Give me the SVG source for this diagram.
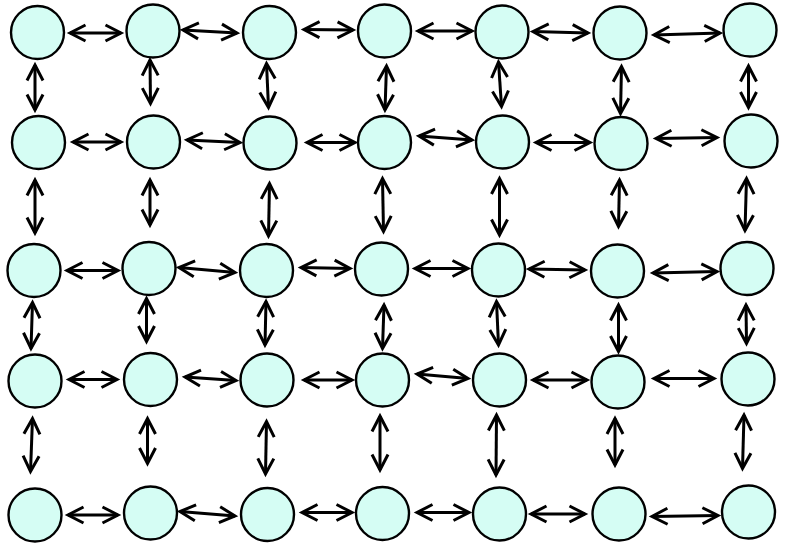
<svg xmlns="http://www.w3.org/2000/svg" width="785" height="543" viewBox="0 0 785 543">
<style>
.n{fill:#d5fdf4;stroke:#000;stroke-width:2.4}
.a{fill:none;stroke:#000;stroke-width:3;marker-start:url(#h);marker-end:url(#h)}
</style>
<defs>
<marker id="h" viewBox="-20 -12 26 24" markerWidth="26" markerHeight="24" refX="0" refY="0" orient="auto-start-reverse" markerUnits="userSpaceOnUse" overflow="visible">
<path d="M-15.5,-8 L0,0 L-15.5,8" fill="none" stroke="#000" stroke-width="3"/>
</marker>
</defs>
<rect width="785" height="543" fill="#fff"/>
<g id="connectors">
<line class="a" x1="70" y1="33" x2="121" y2="33"/>
<line class="a" x1="183" y1="30" x2="237" y2="33"/>
<line class="a" x1="304" y1="29.5" x2="353" y2="30"/>
<line class="a" x1="418" y1="31" x2="472" y2="31"/>
<line class="a" x1="533" y1="31.5" x2="588" y2="33"/>
<line class="a" x1="654" y1="35" x2="720" y2="33"/>
<line class="a" x1="73" y1="142" x2="121" y2="142"/>
<line class="a" x1="187" y1="140" x2="240" y2="142.5"/>
<line class="a" x1="307" y1="142.5" x2="355" y2="142.5"/>
<line class="a" x1="419" y1="136" x2="472" y2="140"/>
<line class="a" x1="536" y1="142.5" x2="590" y2="142.5"/>
<line class="a" x1="656" y1="138.5" x2="717" y2="137.5"/>
<line class="a" x1="67" y1="270.5" x2="118" y2="270.5"/>
<line class="a" x1="179" y1="267.5" x2="235" y2="272.5"/>
<line class="a" x1="301" y1="267.5" x2="350" y2="268.5"/>
<line class="a" x1="415" y1="268.5" x2="468" y2="268.5"/>
<line class="a" x1="529" y1="269" x2="585" y2="270"/>
<line class="a" x1="653" y1="273" x2="717" y2="271.5"/>
<line class="a" x1="69" y1="379.5" x2="117" y2="379.5"/>
<line class="a" x1="185" y1="377" x2="236" y2="380.5"/>
<line class="a" x1="304" y1="380" x2="352" y2="380"/>
<line class="a" x1="417" y1="374" x2="468" y2="378.5"/>
<line class="a" x1="533" y1="380" x2="587" y2="380"/>
<line class="a" x1="654" y1="378.5" x2="714" y2="378.5"/>
<line class="a" x1="68" y1="515" x2="118" y2="515"/>
<line class="a" x1="180" y1="511.5" x2="235" y2="516"/>
<line class="a" x1="302" y1="512.5" x2="352" y2="512.5"/>
<line class="a" x1="417" y1="512.5" x2="469" y2="512.5"/>
<line class="a" x1="531" y1="514" x2="585" y2="514"/>
<line class="a" x1="652" y1="516.5" x2="718" y2="515.5"/>
<line class="a" x1="35" y1="65" x2="35" y2="110"/>
<line class="a" x1="150" y1="60" x2="150.5" y2="103.5"/>
<line class="a" x1="266.5" y1="63.5" x2="268.5" y2="107.5"/>
<line class="a" x1="386.5" y1="66" x2="385" y2="110"/>
<line class="a" x1="498.5" y1="62" x2="501.5" y2="106.5"/>
<line class="a" x1="621.5" y1="66.5" x2="620.5" y2="113.5"/>
<line class="a" x1="748.5" y1="66" x2="748.5" y2="107.5"/>
<line class="a" x1="35" y1="180" x2="35" y2="233"/>
<line class="a" x1="150" y1="180" x2="150" y2="225"/>
<line class="a" x1="269.5" y1="183.5" x2="268.5" y2="236"/>
<line class="a" x1="382.5" y1="178.5" x2="383.5" y2="231.5"/>
<line class="a" x1="499.5" y1="178.5" x2="499.5" y2="235"/>
<line class="a" x1="619.5" y1="180" x2="618.5" y2="226.5"/>
<line class="a" x1="746.5" y1="178.5" x2="745" y2="230.5"/>
<line class="a" x1="32.5" y1="302.5" x2="31" y2="348.5"/>
<line class="a" x1="146.5" y1="298.5" x2="146.5" y2="341.5"/>
<line class="a" x1="266" y1="301.5" x2="265" y2="345"/>
<line class="a" x1="384" y1="305" x2="382.5" y2="348.5"/>
<line class="a" x1="496.5" y1="301.5" x2="498.5" y2="345"/>
<line class="a" x1="618.5" y1="305" x2="618.5" y2="351.5"/>
<line class="a" x1="746" y1="305" x2="746.5" y2="343.5"/>
<line class="a" x1="32.5" y1="418.5" x2="30.5" y2="471.5"/>
<line class="a" x1="147.5" y1="418.5" x2="147.5" y2="463.5"/>
<line class="a" x1="266.5" y1="421.5" x2="265.5" y2="474"/>
<line class="a" x1="380" y1="416" x2="380" y2="470"/>
<line class="a" x1="496.5" y1="415" x2="496" y2="475"/>
<line class="a" x1="615" y1="418.5" x2="615" y2="465"/>
<line class="a" x1="744" y1="415" x2="742.5" y2="468.5"/>
</g>
<g id="r1c1"><circle class="n" cx="37.5" cy="32.5" r="26.5"/></g>
<g id="r1c2"><circle class="n" cx="153" cy="31" r="26.5"/></g>
<g id="r1c3"><circle class="n" cx="269.5" cy="32.5" r="26.5"/></g>
<g id="r1c4"><circle class="n" cx="384.5" cy="31" r="26.5"/></g>
<g id="r1c5"><circle class="n" cx="502" cy="32" r="26.5"/></g>
<g id="r1c6"><circle class="n" cx="620" cy="33" r="26.5"/></g>
<g id="r1c7"><circle class="n" cx="750" cy="30" r="26.5"/></g>
<g id="r2c1"><circle class="n" cx="38.5" cy="142.5" r="26.5"/></g>
<g id="r2c2"><circle class="n" cx="153.5" cy="142" r="26.5"/></g>
<g id="r2c3"><circle class="n" cx="270" cy="143" r="26.5"/></g>
<g id="r2c4"><circle class="n" cx="384.5" cy="142.5" r="26.5"/></g>
<g id="r2c5"><circle class="n" cx="502.5" cy="142" r="26.5"/></g>
<g id="r2c6"><circle class="n" cx="621" cy="143.5" r="26.5"/></g>
<g id="r2c7"><circle class="n" cx="751" cy="141" r="26.5"/></g>
<g id="r3c1"><circle class="n" cx="34" cy="270.5" r="26.5"/></g>
<g id="r3c2"><circle class="n" cx="149" cy="268.5" r="26.5"/></g>
<g id="r3c3"><circle class="n" cx="266.5" cy="270.5" r="26.5"/></g>
<g id="r3c4"><circle class="n" cx="381.5" cy="269" r="26.5"/></g>
<g id="r3c5"><circle class="n" cx="498.5" cy="270" r="26.5"/></g>
<g id="r3c6"><circle class="n" cx="617.5" cy="271" r="26.5"/></g>
<g id="r3c7"><circle class="n" cx="747" cy="268.5" r="26.5"/></g>
<g id="r4c1"><circle class="n" cx="35" cy="381" r="26.5"/></g>
<g id="r4c2"><circle class="n" cx="150.5" cy="379.5" r="26.5"/></g>
<g id="r4c3"><circle class="n" cx="267" cy="380" r="26.5"/></g>
<g id="r4c4"><circle class="n" cx="382.5" cy="380" r="26.5"/></g>
<g id="r4c5"><circle class="n" cx="499.5" cy="380" r="26.5"/></g>
<g id="r4c6"><circle class="n" cx="618" cy="382" r="26.5"/></g>
<g id="r4c7"><circle class="n" cx="748" cy="379" r="26.5"/></g>
<g id="r5c1"><circle class="n" cx="35" cy="515" r="26.5"/></g>
<g id="r5c2"><circle class="n" cx="150.5" cy="513" r="26.5"/></g>
<g id="r5c3"><circle class="n" cx="267.5" cy="514.5" r="26.5"/></g>
<g id="r5c4"><circle class="n" cx="382.5" cy="513.5" r="26.5"/></g>
<g id="r5c5"><circle class="n" cx="499.5" cy="514" r="26.5"/></g>
<g id="r5c6"><circle class="n" cx="619" cy="514" r="26.5"/></g>
<g id="r5c7"><circle class="n" cx="748.5" cy="512" r="26.5"/></g>
</svg>
